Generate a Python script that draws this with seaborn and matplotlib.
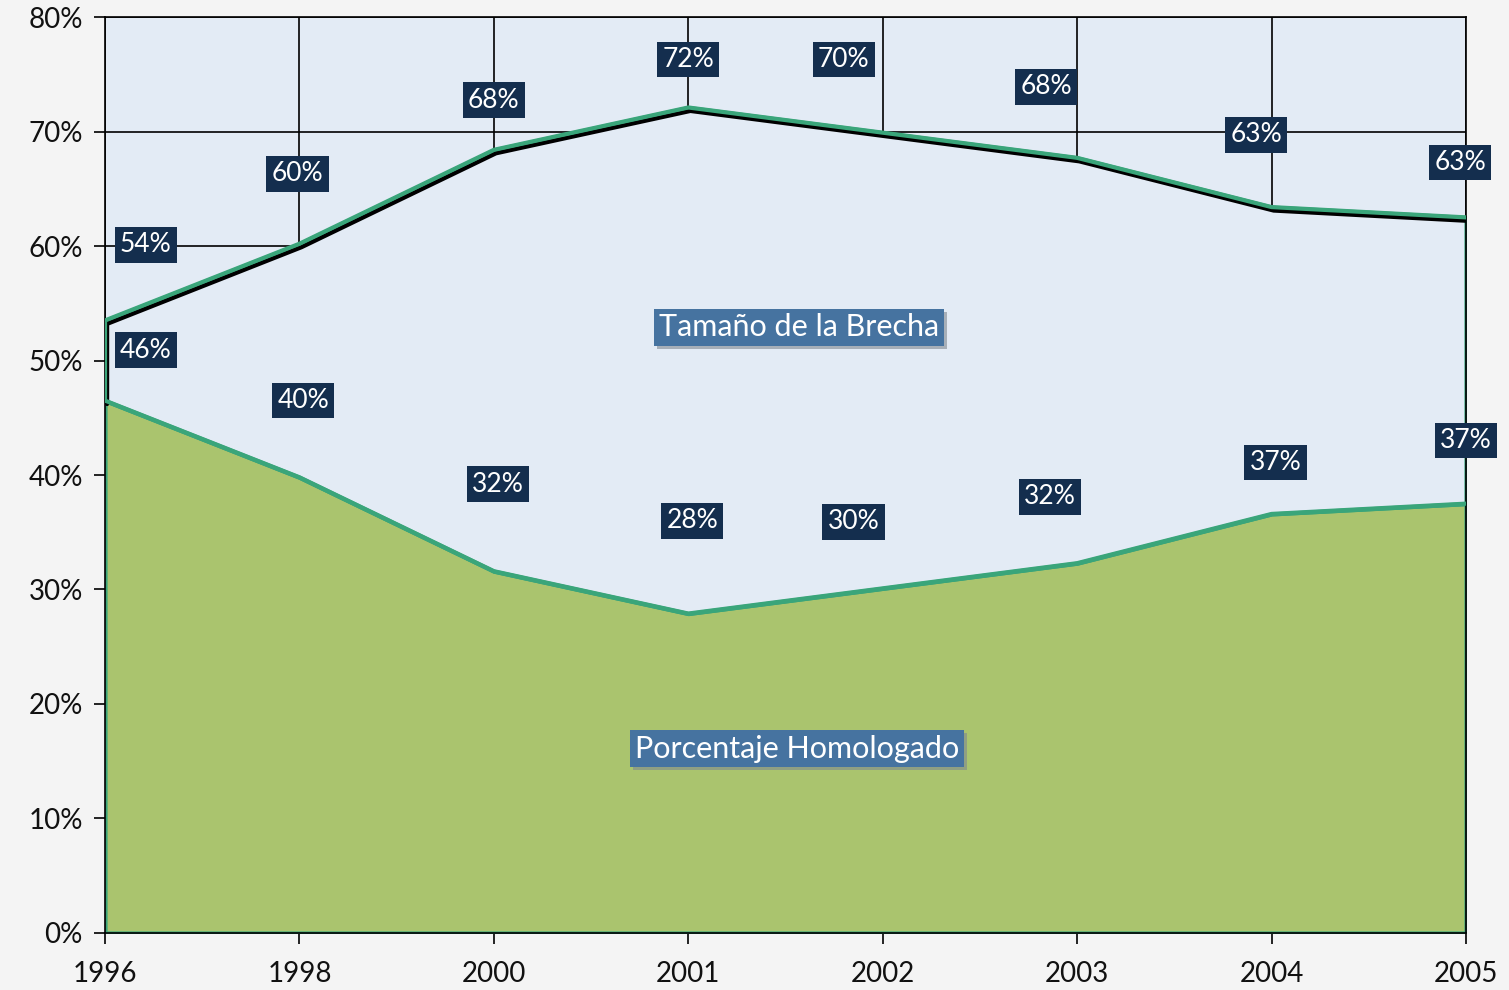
import numpy as np
import pandas as pd
import matplotlib.pyplot as plt
import matplotlib.patheffects as pe
import matplotlib.transforms as mtransforms
import seaborn as sns

# datos
years = ['1996', '1998', '2000', '2001', '2002', '2003', '2004', '2005']
homologado = [46.5, 39.8, 31.6, 27.9, 30.1, 32.3, 36.6, 37.5]
brecha_top = [53.5, 60.2, 68.4, 72.1, 69.9, 67.7, 63.4, 62.5]
labels_homologado = ['46%', '40%', '32%', '28%', '30%', '32%', '37%', '37%']
labels_brecha = ['54%', '60%', '68%', '72%', '70%', '68%', '63%', '63%']
y_ticks = [0, 10, 20, 30, 40, 50, 60, 70, 80]

# desplazamientos de las etiquetas (como en el original)
top_dx = [0.21, -0.01, 0.0, 0.0, -0.2, -0.16, -0.08, -0.03]
top_dy = [6.6, 6.1, 4.35, 4.2, 6.4, 6.2, 6.3, 4.8]
bot_dx = [0.21, 0.02, 0.02, 0.02, -0.15, -0.14, 0.02, 0.0]
bot_dy = [4.4, 6.7, 7.6, 8.1, 5.8, 5.8, 4.5, 5.5]

sns.set_style('white')
plt.rcParams['font.family'] = ['Lato', 'DejaVu Sans']

green_line = '#3AA57A'
green_fill = '#AAC46E'
plot_bg = '#E3EBF5'
navy = '#142E4E'

df = pd.DataFrame({'x': np.arange(len(years)), 'homologado': homologado,
                   'brecha': brecha_top})

fig = plt.figure(figsize=(15.09, 9.9), dpi=100, facecolor='#F4F4F4')
ax = fig.add_axes([0.0696, 0.0576, 0.9019, 0.9252])
ax.set_facecolor(plot_bg)

# área de porcentaje homologado
ax.fill_between(df['x'], 0, df['homologado'], facecolor=green_fill,
                edgecolor=green_line, linewidth=3, zorder=2)
# área de la brecha
ax.fill_between(df['x'], df['homologado'], df['brecha'], facecolor=plot_bg,
                edgecolor=green_line, linewidth=3, zorder=2)

# borde superior con sombra
sns.lineplot(x=np.r_[0, df['x']], y=np.r_[homologado[0], brecha_top], ax=ax,
             color=green_line, linewidth=3, zorder=3, sort=False, estimator=None,
             path_effects=[pe.SimpleLineShadow(offset=(1.5, -2.5), shadow_color='black', alpha=1),
                           pe.Normal()])
sns.lineplot(x=df['x'], y=df['homologado'], ax=ax, color=green_line,
             linewidth=3, zorder=3, estimator=None)

ax.set_xlim(0, len(years) - 1)
ax.set_ylim(0, 80)
ax.set_xticks(df['x'])
ax.set_xticklabels(years)
ax.set_yticks(y_ticks)
ax.set_yticklabels([f'{v}%' for v in y_ticks])
ax.grid(True, color='black', linewidth=1.2)
ax.set_axisbelow(True)
for s in ax.spines.values():
    s.set_color('black')
    s.set_linewidth(1.2)
ax.tick_params(axis='both', length=8, width=1.2, color='black', direction='out',
               labelsize=20, labelcolor='#111111', bottom=True, left=True)
ax.tick_params(axis='x', pad=12)
ax.tick_params(axis='y', pad=8)
ax.set_xlabel('')
ax.set_ylabel('')

box = dict(boxstyle='square,pad=0.2', facecolor=navy, edgecolor='none')
for i in range(len(years)):
    ax.text(i + top_dx[i], brecha_top[i] + top_dy[i], labels_brecha[i],
            ha='center', va='center', fontsize=19, color='white', bbox=box,
            zorder=5, clip_on=False)
    ax.text(i + bot_dx[i], homologado[i] + bot_dy[i], labels_homologado[i],
            ha='center', va='center', fontsize=19, color='white', bbox=box,
            zorder=5, clip_on=False)

# etiquetas de serie con sombra
series_box = dict(boxstyle='square,pad=0.15', facecolor='#4673A0', edgecolor='none')
shadow_box = dict(boxstyle='square,pad=0.15', facecolor='#7F8790', edgecolor='none', alpha=0.6)
shadow_tr = mtransforms.offset_copy(ax.transData, fig=fig, x=3, y=-3, units='dots')
for txt, xx, yy in [('Tamaño de la Brecha', 3.57, 52.9),
                    ('Porcentaje Homologado', 3.56, 16.1)]:
    ax.text(xx, yy, txt, transform=shadow_tr, ha='center', va='center',
            fontsize=22, color='none', bbox=shadow_box, zorder=5)
    ax.text(xx, yy, txt, ha='center', va='center', fontsize=22,
            color='white', bbox=series_box, zorder=6)

fig.savefig('out.png', dpi=100, facecolor=fig.get_facecolor())
